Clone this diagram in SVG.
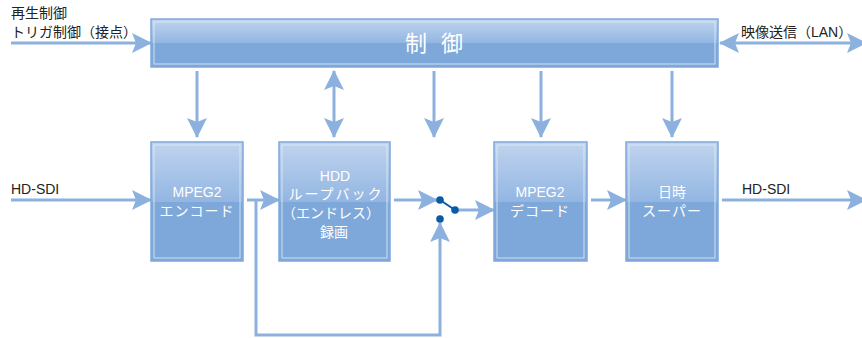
<svg xmlns="http://www.w3.org/2000/svg" width="862" height="338" viewBox="0 0 862 338">
<defs>
<linearGradient id="topg" x1="0" y1="0" x2="0" y2="1">
<stop offset="0" stop-color="#c0d4ee"/>
<stop offset="1" stop-color="#92b6e2"/>
</linearGradient>
<marker id="ah" viewBox="0 0 20 20" refX="19" refY="10" markerWidth="20" markerHeight="20" markerUnits="userSpaceOnUse" orient="auto-start-reverse">
<path d="M0,0 L20,10 L0,20 L4,10 Z" fill="#8db1de"/>
</marker>
<style>
.box-top{fill:url(#topg);}
.box-bot{fill:#7ea8d9;}
.box-edge{fill:none;stroke:#80a8da;stroke-width:1.5;}
.box-inner{fill:none;stroke:#e4edf8;stroke-width:1;opacity:0.8;}
.btxt{font-family:"Liberation Sans","Noto Sans CJK JP",sans-serif;font-size:14px;fill:#ffffff;text-anchor:middle;}
.lbl{font-family:"Liberation Sans","Noto Sans CJK JP",sans-serif;font-size:14px;fill:#222222;}
.conn{fill:none;stroke:#8db1de;stroke-width:3;}
.dot{fill:#0b5aa8;}
</style>
</defs>

<g id="labels">
<text class="lbl" x="11" y="18">再生制御</text>
<text class="lbl" x="11" y="37">トリガ制御（接点）</text>
<text class="lbl" x="741" y="37">映像送信（LAN）</text>
<text class="lbl" x="11" y="194" font-size="14.5">HD-SDI</text>
<text class="lbl" x="742" y="194" font-size="14.5">HD-SDI</text>
</g>

<g id="connectors">
<path class="conn" d="M11,43 L151,43" marker-end="url(#ah)"/>
<path class="conn" d="M720,43 L866,43" marker-start="url(#ah)" marker-end="url(#ah)"/>
<path class="conn" d="M197,71 L197,137" marker-end="url(#ah)"/>
<path class="conn" d="M334,71 L334,137" marker-start="url(#ah)" marker-end="url(#ah)"/>
<path class="conn" d="M434,71 L434,137" marker-end="url(#ah)"/>
<path class="conn" d="M541,71 L541,137" marker-end="url(#ah)"/>
<path class="conn" d="M672,71 L672,137" marker-end="url(#ah)"/>
<path class="conn" d="M11,200 L151,200" marker-end="url(#ah)"/>
<path class="conn" d="M247,200 L279,200" marker-end="url(#ah)"/>
<path class="conn" d="M256,200 L256,335 L440,335 L440,223" marker-end="url(#ah)"/>
<path class="conn" d="M394,200 L437,200" marker-end="url(#ah)"/>
<path class="conn" d="M455,210 L494,210" marker-end="url(#ah)"/>
<path class="conn" d="M591,200 L626,200" marker-end="url(#ah)"/>
<path class="conn" d="M722,200 L866,200" marker-end="url(#ah)"/>
</g>

<g id="switch">
<line x1="440" y1="200" x2="455" y2="210" stroke="#0b5aa8" stroke-width="2"/>
<circle class="dot" cx="440" cy="200" r="3.8"/>
<circle class="dot" cx="455" cy="210" r="3.8"/>
<circle class="dot" cx="440" cy="219" r="3.8"/>
</g>

<g id="control">
<rect class="box-top" x="151" y="19" width="567" height="24"/>
<rect class="box-bot" x="151" y="43" width="567" height="24"/>
<rect class="box-inner" x="154" y="22" width="561" height="42"/>
<rect class="box-edge" x="151" y="19" width="567" height="48"/>
<text x="405" y="51" font-family="'Noto Sans CJK JP',sans-serif" font-size="22" fill="#ffffff" letter-spacing="14">制御</text>
</g>

<g id="encoder">
<rect class="box-top" x="151" y="142" width="92" height="60"/>
<rect class="box-bot" x="151" y="202" width="92" height="59"/>
<rect class="box-inner" x="154" y="145" width="86" height="113"/>
<rect class="box-edge" x="151" y="142" width="92" height="119"/>
<text class="btxt" x="197" y="197" font-size="15">MPEG2</text>
<text class="btxt" x="197" y="216" letter-spacing="1">エンコード</text>
</g>

<g id="hdd">
<rect class="box-top" x="279" y="142" width="111" height="60"/>
<rect class="box-bot" x="279" y="202" width="111" height="59"/>
<rect class="box-inner" x="282" y="145" width="105" height="113"/>
<rect class="box-edge" x="279" y="142" width="111" height="119"/>
<text class="btxt" x="335" y="181" font-size="15">HDD</text>
<text class="btxt" x="336" y="199" letter-spacing="2">ループバック</text>
<text class="btxt" x="331" y="218">（エンドレス）</text>
<text class="btxt" x="334" y="237">録画</text>
</g>

<g id="decoder">
<rect class="box-top" x="494" y="142" width="93" height="60"/>
<rect class="box-bot" x="494" y="202" width="93" height="59"/>
<rect class="box-inner" x="497" y="145" width="87" height="113"/>
<rect class="box-edge" x="494" y="142" width="93" height="119"/>
<text class="btxt" x="540" y="197" font-size="15">MPEG2</text>
<text class="btxt" x="540" y="216" letter-spacing="1">デコード</text>
</g>

<g id="superimpose">
<rect class="box-top" x="626" y="142" width="92" height="60"/>
<rect class="box-bot" x="626" y="202" width="92" height="59"/>
<rect class="box-inner" x="629" y="145" width="86" height="113"/>
<rect class="box-edge" x="626" y="142" width="92" height="119"/>
<text class="btxt" x="672" y="197">日時</text>
<text class="btxt" x="672" y="216" letter-spacing="1">スーパー</text>
</g>
</svg>
